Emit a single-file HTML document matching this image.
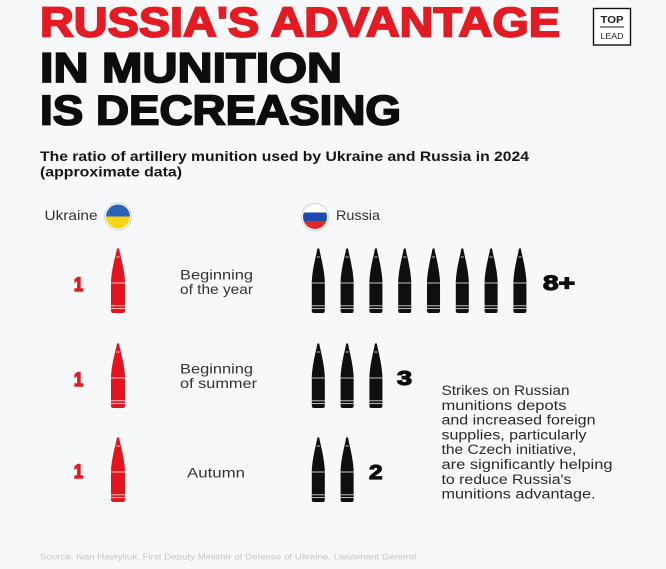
<!DOCTYPE html>
<html><head><meta charset="utf-8"><style>
html,body{margin:0;padding:0;background:#f6f8f9;}
svg{display:block;}
text{font-family:"Liberation Sans",sans-serif;}
</style></head><body>
<svg width="666" height="569" viewBox="0 0 666 569" xmlns="http://www.w3.org/2000/svg">
<rect width="666" height="569" fill="#f6f8f9"/>
<defs>
<g id="bul">
<path d="M6,0.5 L8,0.5 L8.7,4 C10.6,12 13.3,22 14,33 L14,62.5 Q14,65 12,65 L2,65 Q0,65 0,62.5 L0,33 C0.7,22 3.4,12 5.3,4 Z"/>
<g stroke="#f6f8f9" stroke-width="0.9" opacity="0.85">
<line x1="5.3" y1="9" x2="8.7" y2="9"/>
<line x1="0" y1="35" x2="14" y2="35"/>
<line x1="0" y1="57.8" x2="14" y2="57.8"/>
<line x1="0" y1="60.6" x2="14" y2="60.6"/>
</g>
</g>
</defs>

<!-- Title -->
<g font-weight="700" font-size="42">
<text x="40" y="36.5" fill="#e31b23" stroke="#e31b23" stroke-width="1.8" textLength="520" lengthAdjust="spacingAndGlyphs">RUSSIA'S ADVANTAGE</text>
<text x="40" y="82" fill="#0d0d0d" stroke="#0d0d0d" stroke-width="1.8" textLength="302" lengthAdjust="spacingAndGlyphs">IN MUNITION</text>
<text x="40" y="124.5" fill="#0d0d0d" stroke="#0d0d0d" stroke-width="1.8" textLength="361" lengthAdjust="spacingAndGlyphs">IS DECREASING</text>
</g>

<!-- TOP LEAD logo -->
<rect x="593.5" y="8.5" width="37" height="36.5" fill="#fff" stroke="#111" stroke-width="1.4"/>
<text x="612" y="23" font-size="10.5" font-weight="700" fill="#222" text-anchor="middle" textLength="23" lengthAdjust="spacingAndGlyphs">TOP</text>
<line x1="600" y1="27" x2="624" y2="27" stroke="#222" stroke-width="1"/>
<text x="612" y="39" font-size="8.5" fill="#222" text-anchor="middle" textLength="23" lengthAdjust="spacingAndGlyphs">LEAD</text>

<!-- Subtitle -->
<g font-weight="700" font-size="14" fill="#161616">
<text x="40" y="161" textLength="489" lengthAdjust="spacingAndGlyphs">The ratio of artillery munition used by Ukraine and Russia in 2024</text>
<text x="40" y="176.5" textLength="142" lengthAdjust="spacingAndGlyphs">(approximate data)</text>
</g>

<!-- Legend -->
<text x="44.5" y="220" font-size="14" fill="#333" textLength="53" lengthAdjust="spacingAndGlyphs">Ukraine</text>
<g>
<circle cx="118" cy="216.5" r="13.5" fill="#fff" stroke="#cfd3d6" stroke-width="1"/>
<clipPath id="cu"><circle cx="118" cy="216.5" r="12"/></clipPath>
<g clip-path="url(#cu)">
<rect x="105" y="203" width="26" height="13.5" fill="#2a62b8"/>
<rect x="105" y="216.5" width="26" height="14" fill="#f4d514"/>
</g>
</g>
<g>
<circle cx="315" cy="217" r="13.5" fill="#fff" stroke="#cfd3d6" stroke-width="1"/>
<clipPath id="cr"><circle cx="315" cy="217" r="12"/></clipPath>
<g clip-path="url(#cr)">
<rect x="302" y="204" width="26" height="8.5" fill="#ffffff"/>
<rect x="302" y="212.5" width="26" height="8.5" fill="#2147b0"/>
<rect x="302" y="221" width="26" height="9" fill="#e02a2a"/>
</g>
</g>
<text x="336" y="220" font-size="14" fill="#333" textLength="44" lengthAdjust="spacingAndGlyphs">Russia</text>

<!-- Row numbers (Ukraine) -->
<g font-weight="700" font-size="19" fill="#e31b23" stroke="#e31b23" stroke-width="1.6">
<text x="74" y="291" textLength="9" lengthAdjust="spacingAndGlyphs">1</text>
<text x="74" y="386" textLength="9" lengthAdjust="spacingAndGlyphs">1</text>
<text x="74" y="478" textLength="9" lengthAdjust="spacingAndGlyphs">1</text>
</g>

<!-- Red bullets -->
<g fill="#e3141d">
<use href="#bul" x="111" y="248"/>
<use href="#bul" x="111" y="343"/>
<use href="#bul" x="111" y="437"/>
</g>

<!-- Row labels -->
<g font-size="14" fill="#333">
<text x="180" y="279.5" textLength="73" lengthAdjust="spacingAndGlyphs">Beginning</text>
<text x="180" y="294" textLength="73" lengthAdjust="spacingAndGlyphs">of the year</text>
<text x="180" y="373.5" textLength="73" lengthAdjust="spacingAndGlyphs">Beginning</text>
<text x="180" y="388" textLength="77" lengthAdjust="spacingAndGlyphs">of summer</text>
<text x="187" y="477.5" textLength="58" lengthAdjust="spacingAndGlyphs">Autumn</text>
</g>

<!-- Black bullets -->
<g fill="#0f0f0f">
<g transform="translate(0,248)">
<use href="#bul" transform="translate(311.8,0) scale(0.93,1)"/>
<use href="#bul" transform="translate(340.6,0) scale(0.93,1)"/>
<use href="#bul" transform="translate(369.4,0) scale(0.93,1)"/>
<use href="#bul" transform="translate(398.2,0) scale(0.93,1)"/>
<use href="#bul" transform="translate(427.0,0) scale(0.93,1)"/>
<use href="#bul" transform="translate(455.8,0) scale(0.93,1)"/>
<use href="#bul" transform="translate(484.6,0) scale(0.93,1)"/>
<use href="#bul" transform="translate(513.4,0) scale(0.93,1)"/>
</g>
<g transform="translate(0,343)">
<use href="#bul" transform="translate(311.8,0) scale(0.93,1)"/>
<use href="#bul" transform="translate(340.6,0) scale(0.93,1)"/>
<use href="#bul" transform="translate(369.4,0) scale(0.93,1)"/>
</g>
<g transform="translate(0,437)">
<use href="#bul" transform="translate(311.8,0) scale(0.93,1)"/>
<use href="#bul" transform="translate(340.6,0) scale(0.93,1)"/>
</g>
</g>

<!-- Russia numbers -->
<g font-weight="700" fill="#0d0d0d" stroke="#0d0d0d" stroke-width="1.2">
<text x="543" y="290" font-size="21" textLength="32" lengthAdjust="spacingAndGlyphs">8+</text>
<text x="397" y="385" font-size="20" textLength="15" lengthAdjust="spacingAndGlyphs">3</text>
<text x="369" y="479" font-size="20" textLength="13.5" lengthAdjust="spacingAndGlyphs">2</text>
</g>

<!-- Right note -->
<g font-size="13.5" fill="#2a2a2a">
<text x="441.5" y="395" textLength="128" lengthAdjust="spacingAndGlyphs">Strikes on Russian</text>
<text x="441.5" y="409.8" textLength="125" lengthAdjust="spacingAndGlyphs">munitions depots</text>
<text x="441.5" y="424.6" textLength="154" lengthAdjust="spacingAndGlyphs">and increased foreign</text>
<text x="441.5" y="439.4" textLength="145" lengthAdjust="spacingAndGlyphs">supplies, particularly</text>
<text x="441.5" y="454.2" textLength="135" lengthAdjust="spacingAndGlyphs">the Czech initiative,</text>
<text x="441.5" y="469" textLength="171" lengthAdjust="spacingAndGlyphs">are significantly helping</text>
<text x="441.5" y="483.8" textLength="130" lengthAdjust="spacingAndGlyphs">to reduce Russia's</text>
<text x="441.5" y="498.6" textLength="154" lengthAdjust="spacingAndGlyphs">munitions advantage.</text>
</g>

<!-- Source -->
<text x="40" y="559.5" font-size="8" fill="#c4c6c8" textLength="379" lengthAdjust="spacingAndGlyphs">Source: Ivan Havryliuk, First Deputy Minister of Defense of Ukraine, Lieutenant General.</text>
</svg>
</body></html>
